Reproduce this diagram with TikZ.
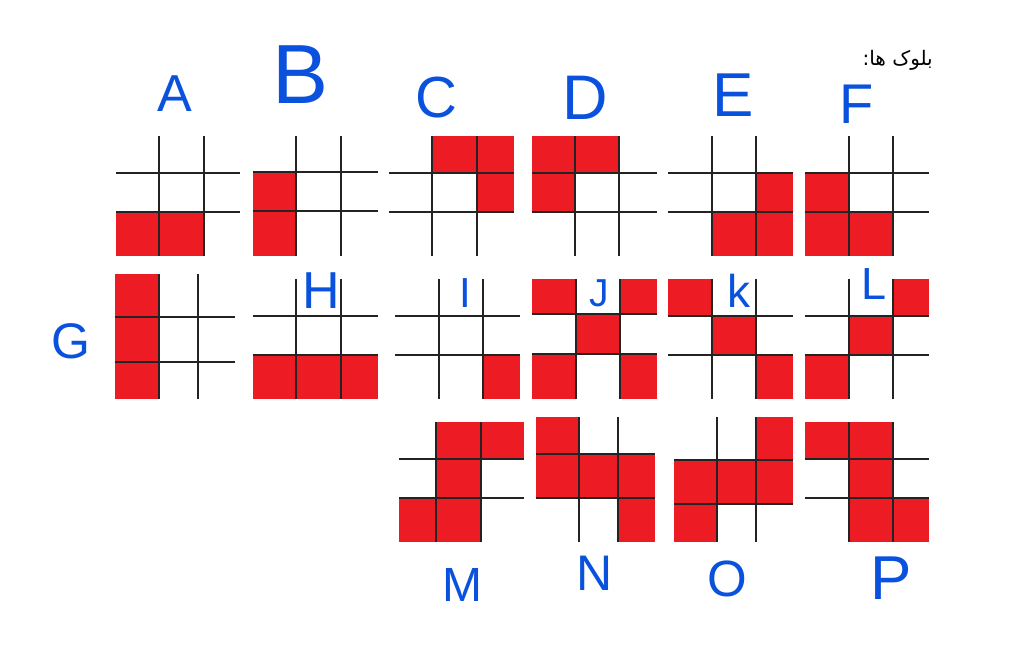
\documentclass[tikz,border=0pt]{standalone}
\usepackage{fontspec}
\setmainfont{Liberation Sans}
\newfontfamily\arabicfont[Script=Arabic]{DejaVu Sans}
\TeXXeTstate=1
\definecolor{cellred}{RGB}{237,28,36}
\definecolor{penblue}{RGB}{10,82,222}
\definecolor{gridgray}{RGB}{35,35,35}
\tikzset{
  gridline/.style={draw=gridgray, line width=1.7pt},
  redcell/.style={fill=cellred},
  letter/.style={text=penblue, inner sep=0pt, font=\fontsize{#1}{#1}\selectfont},
  caption/.style={inner sep=0pt, font=\arabicfont\fontsize{20}{22}\selectfont}
}
\newcommand\myblk[8]{%
  \def\xA{#1}\def\xB{#2}\def\xC{#3}\def\xD{#4}%
  \def\yA{#5}\def\yB{#6}\def\yC{#7}\def\yD{#8}}
\newcommand\mycell[2]{%
  \ifcase#1\or\def\yt{\yA}\def\yb{\yB}\or\def\yt{\yB}\def\yb{\yC}\or\def\yt{\yC}\def\yb{\yD}\fi
  \ifcase#2\or\def\xl{\xA}\def\xr{\xB}\or\def\xl{\xB}\def\xr{\xC}\or\def\xl{\xC}\def\xr{\xD}\fi
  \fill[redcell] (\xl,\yt) rectangle (\xr,\yb);}
\newcommand\mygrid{%
  \draw[gridline] (\xB,\yA) -- (\xB,\yD);
  \draw[gridline] (\xC,\yA) -- (\xC,\yD);
  \draw[gridline] (\xA,\yB) -- (\xD,\yB);
  \draw[gridline] (\xA,\yC) -- (\xD,\yC);}
\begin{document}
\begin{tikzpicture}[x=1pt,y=-1pt]
\useasboundingbox (0,0) rectangle (1017,651);
\fill[white] (0,0) rectangle (1017,651);

% A
\myblk{116}{159}{204}{240}{136}{173}{212}{256}
\mycell31 \mycell32 \mygrid
% B
\myblk{253}{296}{341}{378}{136}{172}{211}{256}
\mycell21 \mycell31 \mygrid
% C
\myblk{389}{432}{477}{514}{136}{173}{212}{256}
\mycell12 \mycell13 \mycell23 \mygrid
% D
\myblk{532}{575}{619}{657}{136}{173}{212}{256}
\mycell11 \mycell12 \mycell21 \mygrid
% E
\myblk{668}{712}{756}{793}{136}{173}{212}{256}
\mycell23 \mycell32 \mycell33 \mygrid
% F
\myblk{805}{849}{893}{929}{136}{173}{212}{256}
\mycell21 \mycell31 \mycell32 \mygrid
% G
\myblk{115}{159}{198}{235}{274}{317}{362}{399}
\mycell11 \mycell21 \mycell31 \mygrid
% H
\myblk{253}{296}{341}{378}{279}{316}{355}{399}
\mycell31 \mycell32 \mycell33 \mygrid
% I
\myblk{395}{439}{483}{520}{279}{316}{355}{399}
\mycell33 \mygrid
% J
\myblk{532}{576}{620}{657}{279}{314}{354}{399}
\mycell11 \mycell13 \mycell22 \mycell31 \mycell33 \mygrid
% K
\myblk{668}{712}{756}{793}{279}{316}{355}{399}
\mycell11 \mycell22 \mycell33 \mygrid
% L
\myblk{805}{849}{893}{929}{279}{316}{355}{399}
\mycell13 \mycell22 \mycell31 \mygrid
% M
\myblk{399}{436}{481}{524}{422}{459}{498}{542}
\mycell12 \mycell13 \mycell22 \mycell31 \mycell32 \mygrid
% N
\myblk{536}{579}{618}{655}{417}{454}{498}{542}
\mycell11 \mycell21 \mycell22 \mycell23 \mycell33 \mygrid
% O
\myblk{674}{717}{756}{793}{417}{460}{504}{542}
\mycell13 \mycell21 \mycell22 \mycell23 \mycell31 \mygrid
% P
\myblk{805}{849}{893}{929}{422}{459}{498}{542}
\mycell11 \mycell12 \mycell22 \mycell32 \mycell33 \mygrid

% letters
\node[letter=52] (lA) at (175,94) {A};
\node[letter=84] (lB) at (301,75) {B};
\node[letter=58] (lC) at (436,98) {C};
\node[letter=63] (lD) at (585,98) {D};
\node[letter=62] (lE) at (733,95) {E};
\node[letter=56] (lF) at (857,104) {F};
\node[letter=50] (lG) at (71,341) {G};
\node[letter=52] (lH) at (321,291) {H};
\node[letter=42] (lI) at (465,293) {I};
\node[letter=39] (lJ) at (599,293) {J};
\node[letter=46] (lK) at (739,291) {k};
\node[letter=45] (lL) at (874,284) {L};
\node[letter=48] (lM) at (462,585) {M};
\node[letter=50] (lN) at (595,573) {N};
\node[letter=51] (lO) at (727,579) {O};
\node[letter=62] (lP) at (891,578) {P};

% caption
\node[caption, anchor=east] (cap) at (933,60) {\beginR بلوک ها:\endR};
\end{tikzpicture}
\end{document}
